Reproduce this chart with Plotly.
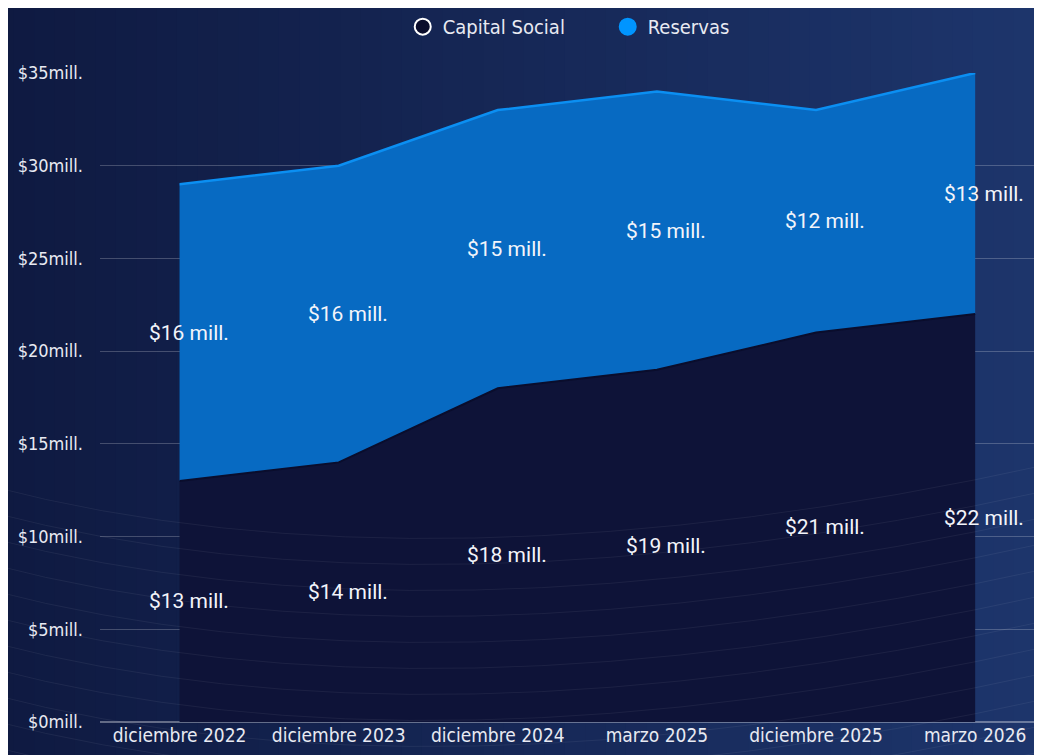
import plotly.graph_objects as go

categories = ["diciembre 2022", "diciembre 2023", "diciembre 2024", "marzo 2025", "diciembre 2025", "marzo 2026"]
capital_social = [13, 14, 18, 19, 21, 22]
reservas = [16, 16, 15, 15, 12, 13]
y_tick_vals = [0, 5, 10, 15, 20, 25, 30, 35]
y_tick_text = ["$0mill.", "$5mill.", "$10mill.", "$15mill.", "$20mill.", "$25mill.", "$30mill.", "$35mill."]

AXIS_FONT = "DejaVu Sans Condensed, Liberation Sans Narrow, sans-serif"
LABEL_FONT = "Roboto, Inter, sans-serif"

fig = go.Figure()
xs = list(range(len(categories)))

fig.add_trace(go.Scatter(
    x=xs, y=capital_social, stackgroup="one", mode="lines",
    line=dict(color="#0a0d2c", width=2), fillcolor="#0e1338",
    showlegend=False, hoverinfo="skip"))
fig.add_trace(go.Scatter(
    x=xs, y=reservas, stackgroup="one", mode="lines",
    line=dict(color="#0b8ff2", width=2.5), fillcolor="#076ac2",
    showlegend=False, hoverinfo="skip"))

# legend entries
fig.add_trace(go.Scatter(
    x=[None], y=[None], mode="markers", name="Capital Social",
    marker=dict(size=24, color="#0a0d2c", line=dict(color="white", width=2))))
fig.add_trace(go.Scatter(
    x=[None], y=[None], mode="markers", name="Reservas",
    marker=dict(size=24, color="#0095ff", line=dict(color="#0095ff", width=2))))

# data labels at the middle of each band
annotations = []
for i, (c, r) in enumerate(zip(capital_social, reservas)):
    annotations.append(dict(x=i, y=c / 2, text=f"${c} mill.", showarrow=False,
                            xshift=9, font=dict(family=LABEL_FONT, size=21, color="#f2f4fa")))
    annotations.append(dict(x=i, y=c + r / 2, text=f"${r} mill.", showarrow=False,
                            xshift=9, font=dict(family=LABEL_FONT, size=21, color="#f2f4fa")))

# ---- background styling (gradient + faint ornamental arcs) ----
PL, PR, PT, PB = 100.0, 1042.0, 73.0, 722.0


def px(x):
    return (x - PL) / (PR - PL)


def py(y):
    return (PB - y) / (PB - PT)


shapes = []
n = 60
c0 = (14, 24, 62)
c1 = (31, 56, 112)
for i in range(n):
    t = i / (n - 1)
    col = tuple(int(c0[k] + (c1[k] - c0[k]) * t) for k in range(3))
    shapes.append(dict(type="rect", xref="paper", yref="paper",
                       x0=-0.2 + 1.3 * i / n, x1=-0.2 + 1.3 * (i + 1) / n + 0.002,
                       y0=-0.1, y1=1.2, fillcolor=f"rgb{col}", line=dict(width=0),
                       layer="below"))

for k in range(13):
    ys = 486 + 26 * k
    ye = ys - 22
    path = (f"M {px(-10):.4f} {py(ys):.4f} "
            f"Q {px(430):.4f} {py(ys + 115):.4f} {px(1050):.4f} {py(ye):.4f}")
    shapes.append(dict(type="path", xref="paper", yref="paper", layer="above",
                       path=path, line=dict(color="rgba(255,255,255,0.06)", width=1)))

fig.update_layout(
    width=1034, height=747,
    margin=dict(l=92, r=0, t=65, b=33),
    paper_bgcolor="#15224f",
    plot_bgcolor="rgba(0,0,0,0)",
    shapes=shapes,
    annotations=annotations,
    showlegend=True,
    legend=dict(orientation="h", x=0.539, xanchor="center",
                yref="container", y=0.975, yanchor="middle",
                traceorder="normal", entrywidth=160,
                font=dict(family=AXIS_FONT, size=20, color="#e8eaf2"),
                bgcolor="rgba(0,0,0,0)", itemsizing="trace"),
    xaxis=dict(range=[-0.5, 5.42], tickvals=xs, ticktext=categories,
               showgrid=False, zeroline=False, showline=False, ticks="",
               tickfont=dict(family=AXIS_FONT, size=19, color="#e8eaf2")),
    yaxis=dict(range=[0, 35], tickvals=y_tick_vals, ticktext=y_tick_text,
               showgrid=True, gridcolor="rgba(255,255,255,0.22)", gridwidth=1,
               zeroline=True, zerolinecolor="rgba(255,255,255,0.35)",
               ticks="", ticklabelstandoff=16,
               tickfont=dict(family=AXIS_FONT, size=18, color="#e8eaf2")),
)

fig.write_html("out.html")
